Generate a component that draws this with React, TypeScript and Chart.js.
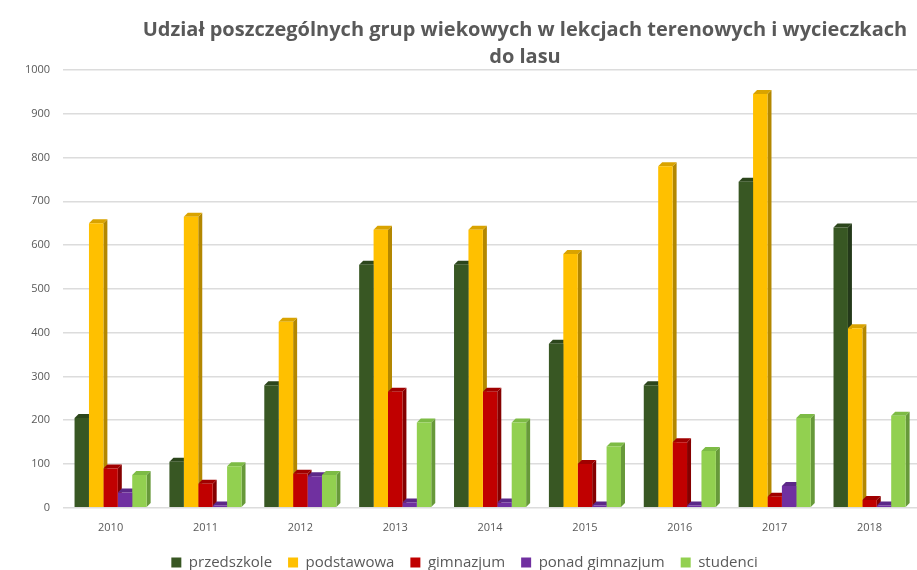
import React, { useEffect, useRef } from "react";
import { Chart, registerables } from "chart.js";

Chart.register(...registerables);

const years = ["2010", "2011", "2012", "2013", "2014", "2015", "2016", "2017", "2018"];
const przedszkole = [205, 105, 280, 555, 555, 375, 280, 745, 640];
const podstawowa = [650, 665, 425, 635, 635, 580, 780, 945, 410];
const gimnazjum = [90, 55, 78, 265, 265, 100, 150, 25, 18];
const ponadGimnazjum = [35, 5, 72, 12, 12, 5, 5, 50, 5];
const studenci = [75, 95, 75, 195, 195, 140, 130, 205, 210];

const seriesNames = ["przedszkole", "podstawowa", "gimnazjum", "ponad gimnazjum", "studenci"];
const frontColors = ["#385723", "#FFC000", "#C00000", "#7030A0", "#92D050"];
const sideColors = ["#24391a", "#b38700", "#850000", "#4b2070", "#67993a"];
const topColors = ["#2c461c", "#d9a300", "#a00000", "#5c2888", "#7dbb45"];

const titleLines = [
  "Udział poszczególnych grup wiekowych w lekcjach terenowych i wycieczkach",
  "do lasu",
];

const depthPlugin = {
  id: "depth3d",
  beforeDatasetsDraw(chart: any) {
    const ctx = chart.ctx;
    const d = 4;
    ctx.save();
    chart.data.datasets.forEach((_ds: any, i: number) => {
      const meta = chart.getDatasetMeta(i);
      meta.data.forEach((bar: any) => {
        const { x, y, base, width } = bar.getProps(["x", "y", "base", "width"], true);
        const l = x - width / 2;
        const r = x + width / 2;
        ctx.fillStyle = sideColors[i];
        ctx.beginPath();
        ctx.moveTo(r, y);
        ctx.lineTo(r + d, y - d);
        ctx.lineTo(r + d, base - d);
        ctx.lineTo(r, base);
        ctx.closePath();
        ctx.fill();
        ctx.fillStyle = topColors[i];
        ctx.beginPath();
        ctx.moveTo(l, y);
        ctx.lineTo(l + d, y - d);
        ctx.lineTo(r + d, y - d);
        ctx.lineTo(r, y);
        ctx.closePath();
        ctx.fill();
      });
    });
    ctx.restore();
  },
};

const titlePlugin = {
  id: "customTitle",
  afterDraw(chart: any) {
    const ctx = chart.ctx;
    ctx.save();
    ctx.fillStyle = "#595959";
    ctx.font = "bold 20px 'Open Sans'";
    ctx.textAlign = "center";
    ctx.textBaseline = "middle";
    const cx = chart.width * 0.5725;
    ctx.fillText(titleLines[0], cx, 30);
    ctx.fillText(titleLines[1], cx, 57);
    ctx.restore();
  },
};

export default function App() {
  const ref = useRef<HTMLCanvasElement | null>(null);
  useEffect(() => {
    document.body.style.margin = "0";
    if (!ref.current) return;
    const all = [przedszkole, podstawowa, gimnazjum, ponadGimnazjum, studenci];
    const chart = new Chart(ref.current, {
      type: "bar",
      data: {
        labels: years,
        datasets: all.map((vals, i) => ({
          label: seriesNames[i],
          data: vals,
          backgroundColor: frontColors[i],
          borderWidth: 0,
          categoryPercentage: 0.76,
          barPercentage: 1.0,
        })),
      },
      options: {
        animation: false,
        responsive: false,
        maintainAspectRatio: false,
        layout: { padding: { top: 70, left: 12, right: 0, bottom: -10 } },
        plugins: {
          title: { display: false },
          tooltip: { enabled: false },
          legend: {
            position: "bottom",
            labels: {
              color: "#595959",
              font: { family: "'Open Sans'", size: 15 },
              boxWidth: 10,
              boxHeight: 10,
              padding: 16,
            },
          },
        },
        scales: {
          x: {
            grid: { display: false },
            border: { display: false },
            ticks: { color: "#595959", font: { family: "'Open Sans'", size: 11 }, padding: 5 },
          },
          y: {
            min: 0,
            max: 1000,
            ticks: {
              stepSize: 100,
              color: "#595959",
              font: { family: "'Open Sans'", size: 11 },
              padding: 13,
              callback: (v: any) => String(v),
            },
            grid: { color: "#dcdcdc", lineWidth: 1.5, drawTicks: false },
            border: { display: false },
          },
        },
      },
      plugins: [depthPlugin, titlePlugin],
    });
    return () => chart.destroy();
  }, []);
  return (
    <div style={{ width: 917, height: 570 }}>
      <canvas ref={ref} width={917} height={570} style={{ display: "block" }} />
    </div>
  );
}
